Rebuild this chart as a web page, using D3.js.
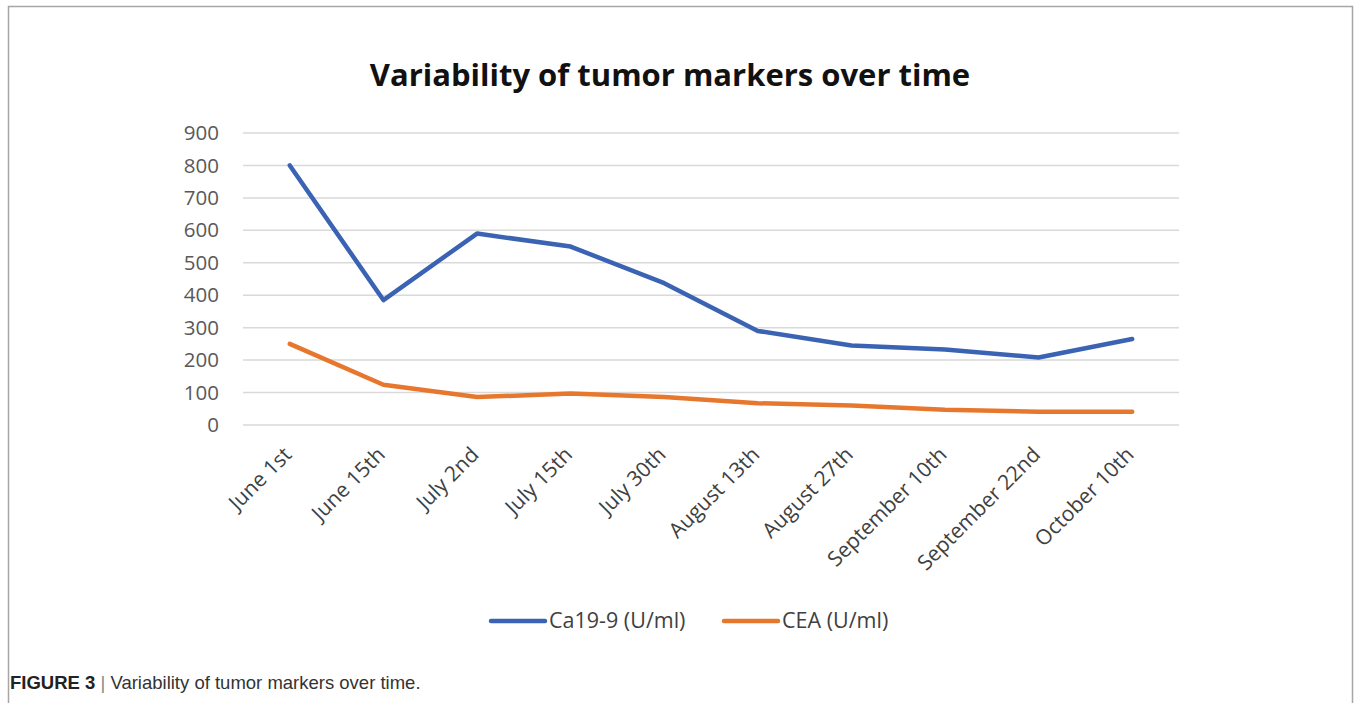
<!DOCTYPE html>
<html>
<head>
    <meta charset="utf-8">
    <title>tumor markers</title>
    <style>
    body { margin: 0; background: white; }
    text { font-family: "Open Sans", "DejaVu Sans", sans-serif; }
    </style>
</head>
<body>
    <svg width="1356" height="703"></svg>
    <script src="https://d3js.org/d3.v7.min.js"></script>
    <script>
        var dates = ["June 1st", "June 15th", "July 2nd", "July 15th", "July 30th",
            "August 13th", "August 27th", "September 10th", "September 22nd", "October 10th"];
        var ca199 = [800, 385, 590, 550, 437, 290, 245, 233, 208, 265];
        var cea = [250, 124, 86, 97, 86, 67, 60, 47, 41, 41];
        var yTicks = [0, 100, 200, 300, 400, 500, 600, 700, 800, 900];

        let svg = d3.select("svg");

        // outer figure frame
        svg.append("rect")
            .attr("x", 8.5).attr("y", 6.5)
            .attr("width", 1344).attr("height", 720)
            .attr("fill", "none")
            .attr("stroke", "#a6a6a6")
            .attr("stroke-width", 1.5);

        let x = d3.scaleBand().domain(dates).range([243, 1179]);
        let y = d3.scaleLinear().domain([0, 900]).range([425, 133]);

        svg.append("text")
            .attr("x", 670).attr("y", 86)
            .attr("text-anchor", "middle")
            .style("font-size", "31px")
            .style("font-weight", "bold")
            .attr("fill", "#111")
            .text("Variability of tumor markers over time");

        // gridlines
        svg.append("g")
            .selectAll("line")
            .data(yTicks)
            .enter()
            .append("line")
            .attr("x1", 243).attr("x2", 1179)
            .attr("y1", d => y(d)).attr("y2", d => y(d))
            .attr("stroke", "#d9d9d9")
            .attr("stroke-width", 1.5);

        let yAxis = svg.append("g")
            .attr("transform", "translate(225,0)")
            .call(d3.axisLeft(y).tickValues(yTicks).tickSize(0).tickPadding(6));
        yAxis.select(".domain").remove();
        yAxis.selectAll("text")
            .style("font-size", "20.5px")
            .attr("fill", "#595959")
            .style("font-family", "'Open Sans', sans-serif");

        let xAxis = svg.append("g")
            .attr("transform", "translate(0,425)")
            .call(d3.axisBottom(x).tickSize(0));
        xAxis.select(".domain").remove();
        xAxis.selectAll("text")
            .style("font-size", "21px")
            .attr("fill", "#404040")
            .style("font-family", "'Open Sans', sans-serif")
            .attr("text-anchor", "end")
            .attr("dy", null)
            .attr("y", 0)
            .attr("transform", "translate(3,31) rotate(-45)");

        let line = d3.line()
            .x((d, i) => x(dates[i]) + x.bandwidth() / 2)
            .y(d => y(d));

        svg.append("path").datum(cea)
            .attr("d", line)
            .attr("fill", "none")
            .attr("stroke", "#e8772e")
            .attr("stroke-width", 4.5)
            .attr("stroke-linecap", "round")
            .attr("stroke-linejoin", "round");

        svg.append("path").datum(ca199)
            .attr("d", line)
            .attr("fill", "none")
            .attr("stroke", "#3b63b3")
            .attr("stroke-width", 4.5)
            .attr("stroke-linecap", "round")
            .attr("stroke-linejoin", "round");

        // legend
        let legend = [["Ca19-9 (U/ml)", "#3b63b3", 491], ["CEA (U/ml)", "#e8772e", 724]];
        let lg = svg.append("g").selectAll("g").data(legend).enter().append("g");
        lg.append("line")
            .attr("x1", d => d[2]).attr("x2", d => d[2] + 54)
            .attr("y1", 621).attr("y2", 621)
            .attr("stroke", d => d[1])
            .attr("stroke-width", 4.5)
            .attr("stroke-linecap", "round");
        lg.append("text")
            .attr("x", d => d[2] + 58).attr("y", 628)
            .style("font-size", "21.5px")
            .attr("fill", "#404040")
            .text(d => d[0]);

        // caption
        let cap = svg.append("text")
            .attr("x", 10).attr("y", 689)
            .style("font-family", "'Liberation Sans', Arial, sans-serif")
            .style("font-size", "18.5px")
            .attr("fill", "#333");
        cap.append("tspan").style("font-weight", "bold").attr("fill", "#222").text("FIGURE 3");
        cap.append("tspan").attr("fill", "#888").text(" | ");
        cap.append("tspan").text("Variability of tumor markers over time.");
    </script>
</body>
</html>
